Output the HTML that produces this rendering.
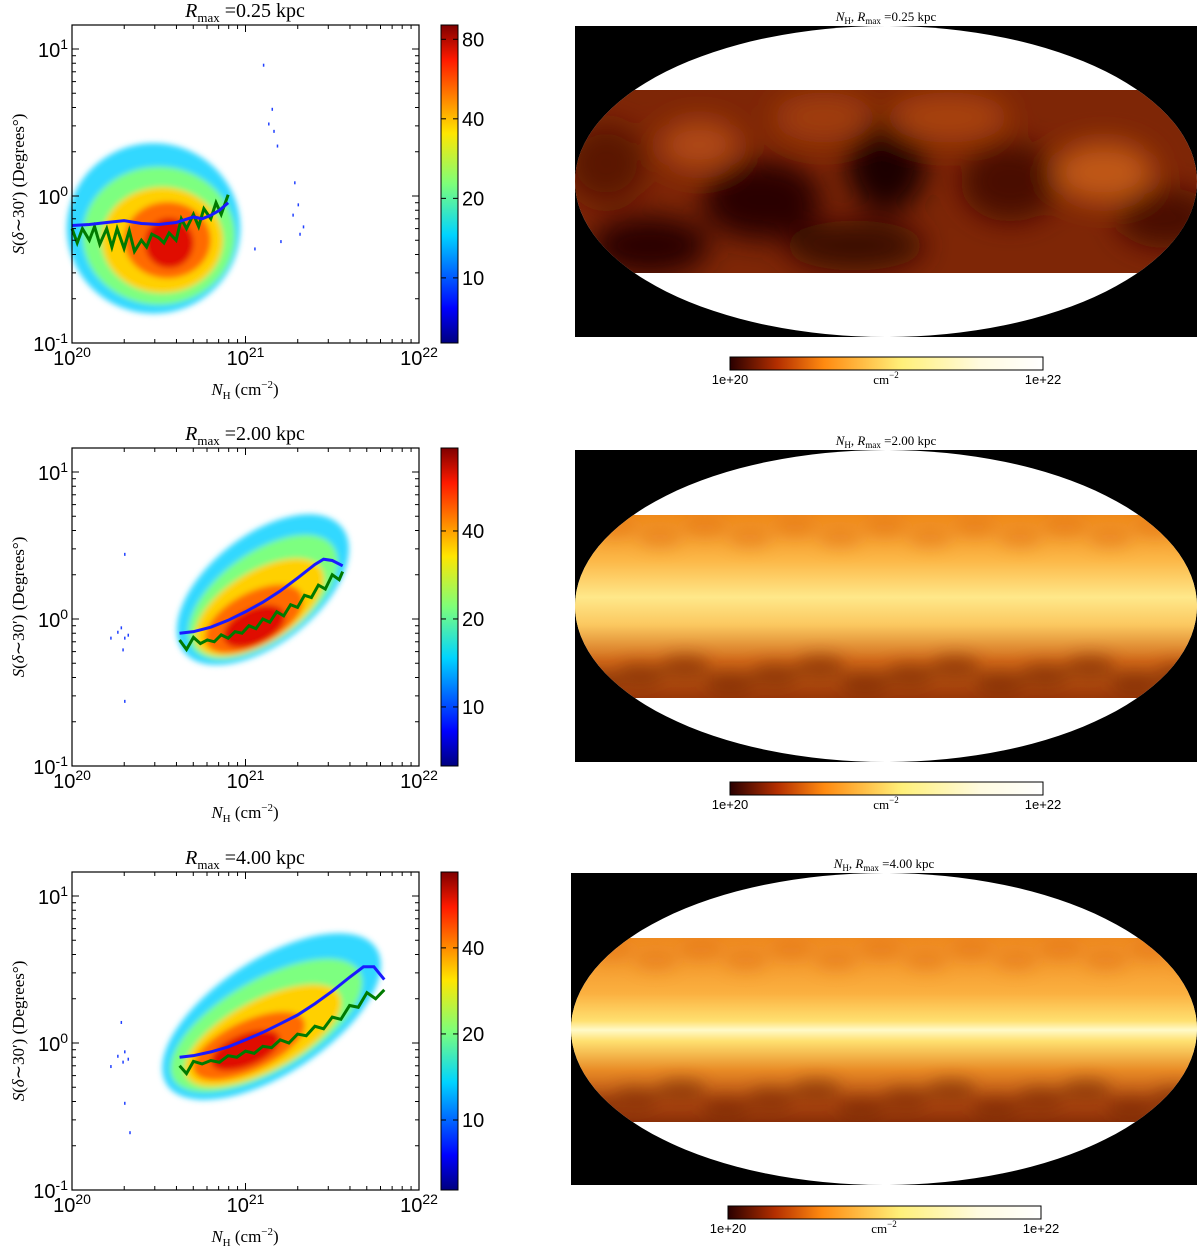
<!DOCTYPE html>
<html><head><meta charset="utf-8">
<style>
html,body{margin:0;padding:0;background:#fff;}
svg{display:block;font-family:"Liberation Sans",sans-serif;}
.serif{font-family:"Liberation Serif",serif;}
</style></head>
<body>
<svg id="fig" width="1200" height="1246" viewBox="0 0 1200 1246" xmlns="http://www.w3.org/2000/svg">
<defs>
<linearGradient id="jet" x1="0" y1="1" x2="0" y2="0">
<stop offset="0" stop-color="#00007f"/><stop offset="0.11" stop-color="#0000ff"/><stop offset="0.125" stop-color="#0010ff"/>
<stop offset="0.34" stop-color="#00d4ff"/><stop offset="0.5" stop-color="#7dff7a"/><stop offset="0.66" stop-color="#ffe600"/>
<stop offset="0.89" stop-color="#ff1a00"/><stop offset="1" stop-color="#7f0000"/></linearGradient>
<linearGradient id="hot" x1="0" y1="0" x2="1" y2="0">
<stop offset="0" stop-color="#2a0000"/><stop offset="0.15" stop-color="#b32e00"/><stop offset="0.3" stop-color="#ff8a10"/>
<stop offset="0.55" stop-color="#fff07a"/><stop offset="0.8" stop-color="#fffbe0"/><stop offset="1" stop-color="#ffffff"/></linearGradient>
<filter id="blur3"><feGaussianBlur stdDeviation="3"/></filter>
<filter id="blur8"><feGaussianBlur stdDeviation="8"/></filter>
<filter id="blur14"><feGaussianBlur stdDeviation="14"/></filter>
<linearGradient id="band2" x1="0" y1="0" x2="0" y2="1">
<stop offset="0" stop-color="#f08a1a"/><stop offset="0.25" stop-color="#fcb848"/><stop offset="0.45" stop-color="#ffe88a"/>
<stop offset="0.6" stop-color="#fbc860"/><stop offset="0.8" stop-color="#d06818"/><stop offset="1" stop-color="#9a3808"/></linearGradient>
<linearGradient id="band3" x1="0" y1="0" x2="0" y2="1">
<stop offset="0" stop-color="#ef8a20"/><stop offset="0.3" stop-color="#fbb040"/><stop offset="0.45" stop-color="#ffe070"/>
<stop offset="0.5" stop-color="#fffac8"/><stop offset="0.56" stop-color="#ffe070"/><stop offset="0.72" stop-color="#e88a25"/>
<stop offset="0.9" stop-color="#b04810"/><stop offset="1" stop-color="#8a3008"/></linearGradient>
</defs>
<g id="plots"></g>
<g id="maps"></g>
</svg>
<script>
// ---------- data ----------
const panelTitles = ["0.25", "2.00", "4.00"];
const cbarTicks1 = [80, 40, 20, 10];
const cbarTicks2 = [40, 20, 10];
const cbarTicks3 = [40, 20, 10];
const cbarMin = [5.67, 6.28, 5.69];
const cbarMax = [90.6, 76.9, 73.7];
// blue median lines: log10(NH), S (deg)
const blueX1 = [20.0,20.1,20.2,20.3,20.4,20.5,20.6,20.7,20.75,20.8,20.85,20.9];
const blueY1 = [0.63,0.64,0.66,0.68,0.65,0.64,0.66,0.72,0.70,0.74,0.80,0.90];
const greenX1 = [20.0,20.03,20.06,20.1,20.13,20.16,20.2,20.23,20.26,20.3,20.33,20.36,20.4,20.43,20.46,20.5,20.53,20.56,20.6,20.63,20.66,20.7,20.73,20.76,20.8,20.83,20.86,20.9];
const greenY1 = [0.6,0.48,0.6,0.5,0.62,0.47,0.6,0.45,0.6,0.44,0.58,0.42,0.5,0.45,0.55,0.52,0.48,0.56,0.5,0.7,0.6,0.75,0.62,0.82,0.7,0.9,0.75,1.02];
const blueX2 = [20.62,20.7,20.8,20.9,21.0,21.1,21.2,21.3,21.4,21.45,21.5,21.56];
const blueY2 = [0.80,0.82,0.88,0.98,1.12,1.30,1.55,1.90,2.35,2.55,2.5,2.3];
const greenX2 = [20.62,20.66,20.7,20.74,20.78,20.82,20.86,20.9,20.94,20.98,21.02,21.06,21.1,21.14,21.18,21.22,21.26,21.3,21.34,21.38,21.42,21.46,21.5,21.54,21.56];
const greenY2 = [0.72,0.62,0.75,0.68,0.72,0.7,0.78,0.74,0.82,0.8,0.9,0.86,1.0,0.95,1.12,1.05,1.25,1.2,1.45,1.4,1.7,1.6,2.0,1.85,2.1];
const blueX3 = [20.62,20.7,20.8,20.9,21.0,21.1,21.2,21.3,21.4,21.5,21.6,21.68,21.74,21.8];
const blueY3 = [0.80,0.82,0.87,0.94,1.05,1.18,1.35,1.55,1.85,2.25,2.8,3.3,3.3,2.7];
const greenX3 = [20.62,20.66,20.7,20.75,20.8,20.85,20.9,20.95,21.0,21.05,21.1,21.15,21.2,21.25,21.3,21.35,21.4,21.45,21.5,21.55,21.6,21.65,21.7,21.75,21.8];
const greenY3 = [0.7,0.62,0.75,0.72,0.76,0.74,0.82,0.8,0.88,0.85,0.95,0.93,1.05,1.0,1.15,1.12,1.3,1.25,1.5,1.45,1.8,1.75,2.2,2.0,2.3];
// density contours: [log x centre, log y centre, log x half-width, log y half-height, rotation deg]
const blobs1 = [[20.47,-0.22,0.5,0.58,0],[20.5,-0.27,0.44,0.47,0],[20.52,-0.3,0.35,0.36,0],[20.55,-0.3,0.25,0.26,0],[20.56,-0.32,0.14,0.17,0]];
const blobs2 = [[21.1,0.2,0.58,0.37,-38],[21.1,0.15,0.5,0.3,-36],[21.08,0.08,0.42,0.24,-32],[21.05,0.0,0.31,0.18,-28],[21.05,-0.05,0.19,0.12,-25]];
const blobs3 = [[21.15,0.18,0.72,0.39,-33],[21.12,0.12,0.62,0.31,-30],[21.1,0.05,0.5,0.24,-28],[21.02,-0.02,0.35,0.17,-25],[21.0,-0.05,0.21,0.11,-22]];
const blobColors = ["#30d8ff","#7dff80","#ffd000","#ff6a00","#e01000"];
const outliers1 = [[21.1,0.9],[21.15,0.6],[21.16,0.45],[21.18,0.35],[21.13,0.5],[21.28,0.1],[21.3,-0.05],[21.27,-0.12],[21.31,-0.25],[21.33,-0.2],[21.2,-0.3],[21.05,-0.35]];
const outliers2 = [[20.28,-0.05],[20.3,-0.12],[20.26,-0.08],[20.29,-0.2],[20.32,-0.1],[20.3,0.45],[20.3,-0.55],[20.22,-0.12]];
const outliers3 = [[20.28,0.15],[20.3,-0.05],[20.26,-0.08],[20.29,-0.12],[20.32,-0.1],[20.3,-0.4],[20.33,-0.6],[20.22,-0.15]];

const panels = [
 {top:25, bot:343, blue:[blueX1,blueY1], green:[greenX1,greenY1], blobs:blobs1, ticks:cbarTicks1, min:cbarMin[0], max:cbarMax[0], out:outliers1},
 {top:448, bot:766, blue:[blueX2,blueY2], green:[greenX2,greenY2], blobs:blobs2, ticks:cbarTicks2, min:cbarMin[1], max:cbarMax[1], out:outliers2},
 {top:872, bot:1190, blue:[blueX3,blueY3], green:[greenX3,greenY3], blobs:blobs3, ticks:cbarTicks3, min:cbarMin[2], max:cbarMax[2], out:outliers3}
];
const NS="http://www.w3.org/2000/svg";
function mk(tag, attrs, parent){const e=document.createElementNS(NS,tag);for(const k in attrs)e.setAttribute(k,attrs[k]);parent.appendChild(e);return e;}
const plots=document.getElementById('plots');
const X0=72, X1=419;
panels.forEach((p,i)=>{
  const g=mk('g',{},plots);
  
  
  const sx=l=>X0+(l-20)*(X1-X0)/2;
  const sy0=ly=>p.bot-(ly+1)*147;
  const sy=v=>sy0(Math.log10(v));
  const bg=mk('g',{filter:'url(#blur3)'},g);
  p.blobs.forEach((b,j)=>{
    const e=mk('ellipse',{cx:sx(b[0]),cy:sy0(b[1]),rx:b[2]*(X1-X0)/2,ry:b[3]*147,fill:blobColors[j],transform:`rotate(${b[4]} ${sx(b[0])} ${sy0(b[1])})`},bg);
    
    
  });
  p.out.forEach(o=>{
    const r=mk('rect',{x:sx(o[0]),y:sy0(o[1]),width:1.5,height:3,fill:'#2040ff'},g);
    
    
  });
  const gp=p.green[0].map((x,k)=>sx(x)+','+sy(p.green[1][k])).join(' ');
  const gl=mk('polyline',{points:gp,fill:'none',stroke:'#007a00','stroke-width':3},g);
  
  
  const bp=p.blue[0].map((x,k)=>sx(x)+','+sy(p.blue[1][k])).join(' ');
  const bl=mk('polyline',{points:bp,fill:'none',stroke:'#1a1aff','stroke-width':3},g);
  
  
  const fr=mk('rect',{x:X0,y:p.top,width:X1-X0,height:p.bot-p.top,fill:'none',stroke:'#000','stroke-width':1.2},g);
  
  
  for(let d=20; d<22; d++) for(let m=1;m<10;m++){const l=d+Math.log10(m);const x=sx(l);const L=m==1?7:4;
    mk('line',{x1:x,x2:x,y1:p.bot,y2:p.bot-L,stroke:'#000'},g);mk('line',{x1:x,x2:x,y1:p.top,y2:p.top+L,stroke:'#000'},g);}
  for(let d=-1; d<2; d++) for(let m=1;m<10;m++){const l=d+Math.log10(m);const y=sy0(l);if(y<p.top)continue;const L=m==1?7:4;
    mk('line',{x1:X0,x2:X0+L,y1:y,y2:y,stroke:'#000'},g);mk('line',{x1:X1,x2:X1-L,y1:y,y2:y,stroke:'#000'},g);}
  [20,21,22].forEach(d=>{const t=mk('text',{x:sx(d),y:p.bot+22,'text-anchor':'middle','font-size':20},g);
    t.innerHTML=`10<tspan dy="-8" font-size="14">${d}</tspan>`;
    });
  [-1,0,1].forEach(d=>{const t=mk('text',{x:X0-4,y:sy0(d)+8,'text-anchor':'end','font-size':20},g);
    t.innerHTML=`10<tspan dy="-8" font-size="14">${d}</tspan>`;
    });
  const xt=mk('text',{x:245,y:p.bot+52,'text-anchor':'middle','font-size':17,class:'serif'},g);
  xt.innerHTML='<tspan font-style="italic">N</tspan><tspan font-size="11" dy="4">H</tspan><tspan dy="-4"> (cm</tspan><tspan font-size="11" dy="-7">−2</tspan><tspan dy="7">)</tspan>';
  
  const cy=(p.top+p.bot)/2;
  const yt=mk('text',{x:0,y:0,'text-anchor':'middle','font-size':17,class:'serif',transform:`translate(24 ${cy}) rotate(-90)`},g);
  yt.innerHTML='<tspan font-style="italic">S</tspan>(<tspan font-style="italic">δ</tspan>∼30′) (Degrees°)';
  
  const tt=mk('text',{x:245,y:p.top-8,'text-anchor':'middle','font-size':20,class:'serif'},g);
  tt.innerHTML=`<tspan font-style="italic">R</tspan><tspan font-size="13" dy="5">max</tspan><tspan dy="-5"> =${panelTitles[i]} kpc</tspan>`;
  
  const cb=mk('rect',{x:441,y:p.top,width:17,height:p.bot-p.top,fill:'url(#jet)',stroke:'#000'},g);
  
  const lmin=Math.log(p.min), lmax=Math.log(p.max);
  const cyv=v=>p.bot-(Math.log(v)-lmin)/(lmax-lmin)*(p.bot-p.top);
  p.ticks.forEach(v=>{const y=cyv(v);
    mk('line',{x1:441,x2:446,y1:y,y2:y,stroke:'#000'},g);mk('line',{x1:458,x2:453,y1:y,y2:y,stroke:'#000'},g);
    const t=mk('text',{x:462,y:y+7,'font-size':20},g);t.textContent=v;
    });
});
// ---------- maps ----------
const maps=[{x:575,y:26,w:622,h:311,b1:90,b2:273,title:"0.25",cb:357},
            {x:575,y:450,w:622,h:312,b1:515,b2:698,title:"2.00",cb:782},
            {x:571,y:873,w:626,h:312,b1:938,b2:1122,title:"4.00",cb:1206}];
const mg=document.getElementById('maps');
maps.forEach((m,i)=>{
  const g=mk('g',{},mg);
  
  mk('rect',{x:m.x,y:m.y,width:m.w,height:m.h,fill:'#000'},g);
  const cx=m.x+m.w/2, cy=m.y+m.h/2;
  mk('ellipse',{cx,cy,rx:m.w/2,ry:m.h/2,fill:'#fff'},g);
  const bh=m.b2-m.b1;
  const cp=mk('clipPath',{id:'clip'+i},g);
  const ce=mk('ellipse',{cx,cy,rx:m.w/2,ry:m.h/2},cp);
  const cp2=mk('clipPath',{id:'bclip'+i},g);
  mk('rect',{x:m.x,y:m.b1,width:m.w,height:bh},cp2);
  const outer=mk('g',{'clip-path':`url(#clip${i})`},g);
  const bg=mk('g',{'clip-path':`url(#bclip${i})`},outer);
  if(i==0){
    mk('rect',{x:m.x,y:m.b1,width:m.w,height:bh,fill:'#7e2606'},bg);
    const inner=mk('g',{filter:'url(#blur14)'},bg);
    [[0.3,0.6,60,40,'#2a0500'],[0.5,0.4,40,50,'#1e0300'],[0.12,0.85,60,30,'#2a0500'],[0.7,0.5,50,40,'#4a0e00'],[0.85,0.45,50,30,'#c05818'],
     [0.6,0.15,60,25,'#a84210'],[0.4,0.15,50,25,'#a03e10'],[0.2,0.3,40,25,'#b04818'],[0.95,0.7,50,30,'#4a1000'],[0.45,0.85,70,25,'#3a0800'],[0.05,0.4,40,40,'#5a1500']]
      .forEach(s=>mk('ellipse',{cx:m.x+s[0]*m.w,cy:m.b1+s[1]*bh,rx:s[2],ry:s[3],fill:s[4]},inner));
  } else {
    mk('rect',{x:m.x,y:m.b1,width:m.w,height:bh,fill:i==1?'url(#band2)':'url(#band3)'},bg);
    const inner=mk('g',{filter:'url(#blur8)',opacity:0.5},bg);
    for(let k=0;k<14;k++){mk('ellipse',{cx:m.x+20+k*45,cy:m.b2-15-(k%3)*8,rx:25,ry:12,fill:'#6a2004'},inner);
      mk('ellipse',{cx:m.x+40+k*45,cy:m.b1+12+(k%2)*10,rx:22,ry:10,fill:'#e07018'},inner);}
  }
  const t=mk('text',{x:cx,y:m.y-5,'text-anchor':'middle','font-size':13,class:'serif'},g);
  t.innerHTML=`<tspan font-style="italic">N</tspan><tspan font-size="9" dy="3">H</tspan><tspan dy="-3">, </tspan><tspan font-style="italic">R</tspan><tspan font-size="9" dy="3">max</tspan><tspan dy="-3"> =${m.title} kpc</tspan>`;
  
  const cbx=cx-156;
  const cb=mk('rect',{x:cbx,y:m.cb,width:313,height:13,fill:'url(#hot)',stroke:'#000'},g);
  
  const l1=mk('text',{x:cbx,y:m.cb+27,'text-anchor':'middle','font-size':13},g);l1.textContent='1e+20';
  
  const l2=mk('text',{x:cbx+313,y:m.cb+27,'text-anchor':'middle','font-size':13},g);l2.textContent='1e+22';
  
  const u=mk('text',{x:cbx+156,y:m.cb+27,'text-anchor':'middle','font-size':13,class:'serif'},g);
  u.innerHTML='cm<tspan font-size="9" dy="-6">−2</tspan>';
  
});
</script>
</body></html>
